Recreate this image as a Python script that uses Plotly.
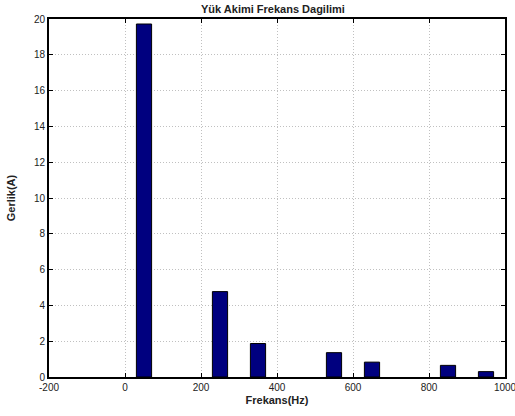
import plotly.graph_objects as go

# Harmonic frequencies (Hz) and current amplitudes (A)
frekans = [50, 250, 350, 550, 650, 850, 950]
genlik = [19.72, 4.77, 1.87, 1.36, 0.83, 0.65, 0.30]

x_ticks = [-200, 0, 200, 400, 600, 800, 1000]
y_ticks = [0, 2, 4, 6, 8, 10, 12, 14, 16, 18, 20]

fig = go.Figure(
    go.Bar(
        x=frekans,
        y=genlik,
        width=40,
        marker=dict(color="#00007F", line=dict(color="black", width=1)),
    )
)

axis_common = dict(
    showline=True,
    linecolor="black",
    linewidth=2,
    mirror="allticks",
    ticks="inside",
    ticklen=4,
    tickwidth=1,
    tickcolor="black",
    showgrid=True,
    gridcolor="#c0c0c0",
    griddash="1px,2px",
    gridwidth=1,
    zeroline=False,
    automargin=False,
    ticklabeloverflow="allow",
    tickfont=dict(family="Liberation Sans, Arial", size=10, color="#222"),
)

fig.update_layout(
    width=515,
    height=416,
    margin=dict(l=49, r=10, t=19, b=39),
    paper_bgcolor="white",
    plot_bgcolor="white",
    showlegend=False,
    title=dict(
        text="<b>Yük Akimi Frekans Dagilimi</b>",
        x=0.53,
        xanchor="center",
        y=0.978,
        yanchor="middle",
        font=dict(family="Liberation Sans, Arial", size=11, color="#222"),
    ),
    xaxis=dict(
        range=[-200, 1000],
        tickvals=x_ticks,
        ticktext=[str(v) for v in x_ticks],
        title=dict(text="<b>Frekans(Hz)</b>", standoff=4,
                   font=dict(family="Liberation Sans, Arial", size=11, color="#222")),
        **axis_common,
    ),
    yaxis=dict(
        range=[0, 20],
        tickvals=y_ticks,
        title=dict(text="<b>Gerlik(A)</b>", standoff=16,
                   font=dict(family="Liberation Sans, Arial", size=11, color="#222")),
        **axis_common,
    ),
)

fig.write_html("out.html")
